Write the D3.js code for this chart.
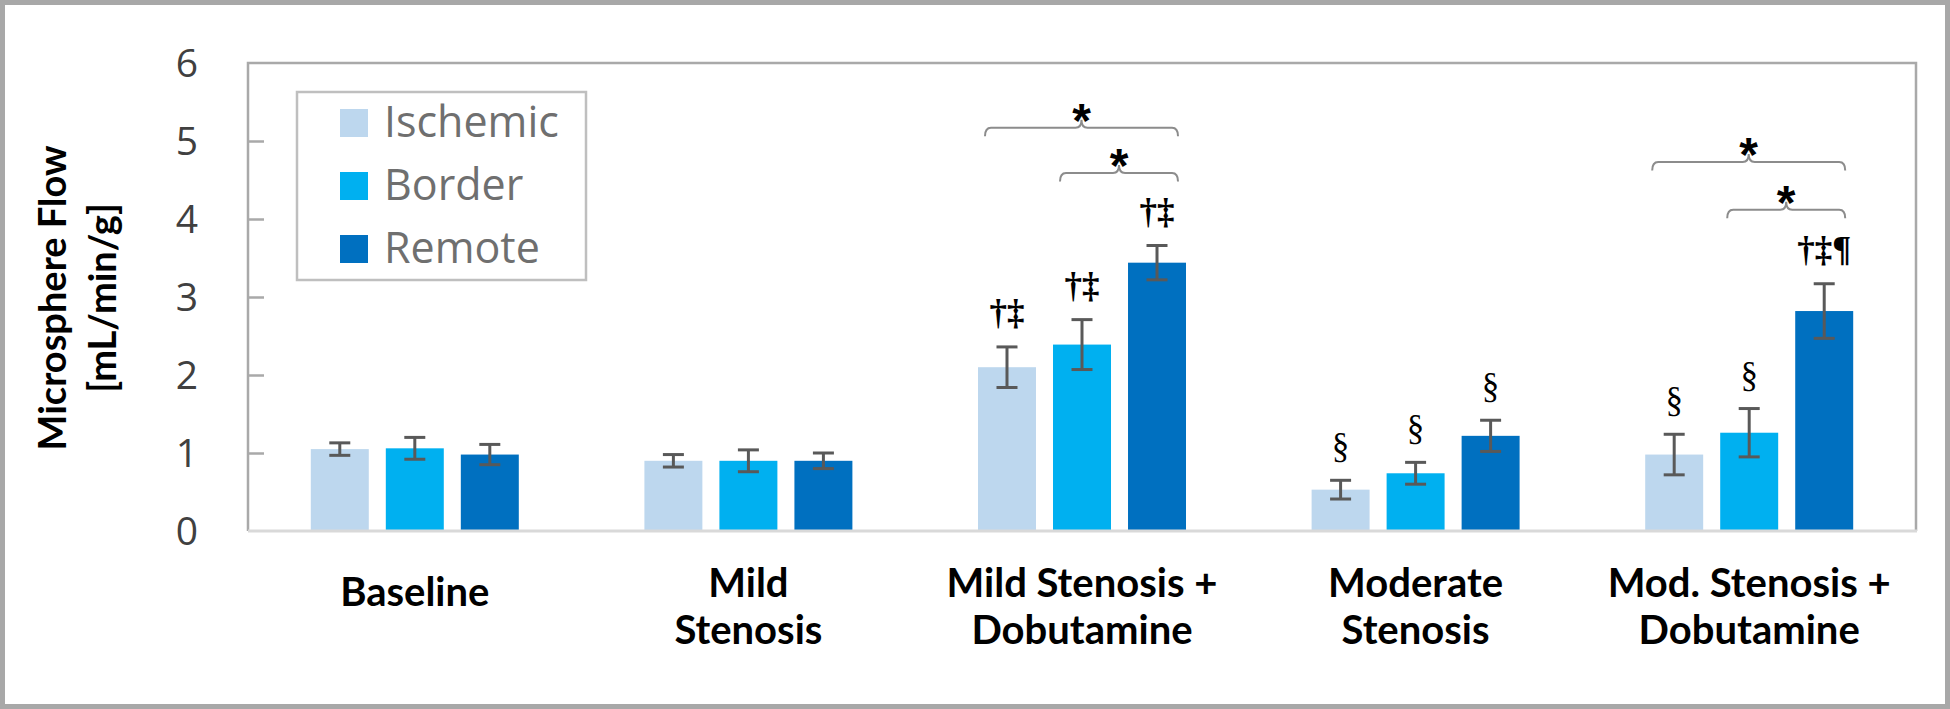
<!DOCTYPE html>
<html>
<head>
<meta charset="utf-8">
<script src="https://cdn.jsdelivr.net/npm/d3@7"></script>
<style>
  html, body { margin: 0; padding: 0; background: #ffffff; }
  svg { display: block; }
</style>
</head>
<body>
<svg id="chart" width="1950" height="709"></svg>
<script>
// ---------------- data ----------------
const categories = ["Baseline", "Mild\nStenosis", "Mild Stenosis +\nDobutamine", "Moderate\nStenosis", "Mod. Stenosis +\nDobutamine"];
const seriesNames = ["Ischemic", "Border", "Remote"];
const ischemic = [1.05, 0.90, 2.10, 0.53, 0.98];
const border   = [1.06, 0.90, 2.39, 0.74, 1.26];
const remote   = [0.98, 0.90, 3.44, 1.22, 2.82];
const ischemicErr = [0.08, 0.08, 0.26, 0.12, 0.26];
const borderErr   = [0.14, 0.14, 0.32, 0.14, 0.31];
const remoteErr   = [0.13, 0.10, 0.22, 0.20, 0.35];
const ischemicMarks = ["", "", "†‡", "§", "§"];
const borderMarks   = ["", "", "†‡", "§", "§"];
const remoteMarks   = ["", "", "†‡", "§", "†‡¶"];
// significance brackets: category index, from series, to series, level (flow units)
const bracketCat   = [2, 2, 4, 4];
const bracketFrom  = [0, 1, 0, 1];
const bracketTo    = [2, 2, 2, 2];
const bracketLevel = [5.17, 4.59, 4.73, 4.12];
const bracketLabel = ["*", "*", "*", "*"];
const yTicks = [0, 1, 2, 3, 4, 5, 6];
const yTitle = ["Microsphere Flow", "[mL/min/g]"];

// ---------------- styles ----------------
const colors = ["#bdd7ee", "#00b0f0", "#0070c0"];
const values = [ischemic, border, remote];
const errs = [ischemicErr, borderErr, remoteErr];
const marks = [ischemicMarks, borderMarks, remoteMarks];

const svg = d3.select("#chart");
const W = 1950, H = 709;
const plot = { left: 248, right: 1916, top: 63, bottom: 531 };

// outer image frame
svg.append("rect").attr("x", 2.5).attr("y", 2.5).attr("width", W - 5).attr("height", H - 5)
  .attr("fill", "#ffffff").attr("stroke", "#a8a8a8").attr("stroke-width", 5);

const x0 = d3.scaleBand().domain(d3.range(categories.length)).range([plot.left, plot.right]).padding(0);
const x1 = d3.scaleBand().domain(d3.range(seriesNames.length)).range([-104, 104]).paddingInner(0.227).paddingOuter(0);
const y = d3.scaleLinear().domain([0, 6]).range([plot.bottom, plot.top]);

// plot frame (left, top, right)
const frameColor = "#a9a9a9";
svg.append("path")
  .attr("d", `M${plot.left},${plot.bottom} L${plot.left},${plot.top} L${plot.right},${plot.top} L${plot.right},${plot.bottom}`)
  .attr("fill", "none").attr("stroke", frameColor).attr("stroke-width", 2.5);

// y axis ticks & labels
const yAxis = d3.axisRight(y).tickValues(yTicks.filter(v => v > 0 && v < 6)).tickSize(16).tickFormat("");
const gy = svg.append("g").attr("transform", `translate(${plot.left},0)`).call(yAxis);
gy.select(".domain").remove();
gy.selectAll(".tick line").attr("stroke", frameColor).attr("stroke-width", 2.5);

svg.append("g").selectAll("text").data(yTicks).join("text")
  .attr("x", 198).attr("y", d => y(d) + 14)
  .attr("text-anchor", "end")
  .attr("font-family", "'Open Sans', 'DejaVu Sans', sans-serif")
  .attr("font-size", 39).attr("fill", "#404040")
  .text(d => d);

// y title
const yt = svg.append("text")
  .attr("transform", "translate(66,298) rotate(-90)")
  .attr("text-anchor", "middle")
  .attr("font-family", "Lato, 'Open Sans', sans-serif")
  .attr("font-weight", "bold").attr("font-size", 38).attr("fill", "#000");
yt.selectAll("tspan").data(yTitle).join("tspan")
  .attr("x", 0).attr("y", (d, i) => i * 50).text(d => d);

// bars
const groups = svg.append("g").selectAll("g").data(categories).join("g")
  .attr("transform", (d, i) => `translate(${x0(i) + x0.bandwidth() / 2},0)`);

groups.each(function(cat, ci) {
  const g = d3.select(this);
  seriesNames.forEach((s, si) => {
    const v = values[si][ci], e = errs[si][ci];
    const bx = x1(si), bw = x1.bandwidth(), cx = bx + bw / 2;
    g.append("rect").attr("x", bx).attr("y", y(v)).attr("width", bw).attr("height", y(0) - y(v))
      .attr("fill", colors[si]);
    // error bar
    g.append("line").attr("x1", cx).attr("x2", cx).attr("y1", y(v + e)).attr("y2", y(v - e))
      .attr("stroke", "#595959").attr("stroke-width", 3);
    [v + e, v - e].forEach(t => {
      g.append("line").attr("x1", cx - 10.5).attr("x2", cx + 10.5).attr("y1", y(t)).attr("y2", y(t))
        .attr("stroke", "#595959").attr("stroke-width", 3);
    });
    // significance marks
    const m = marks[si][ci];
    if (m) {
      g.append("text").attr("x", cx).attr("y", y(v + e) - 23)
        .attr("text-anchor", "middle")
        .attr("font-family", "'Liberation Serif', 'DejaVu Serif', serif")
        .attr("font-weight", m.includes("†") ? "bold" : "normal")
        .attr("font-size", 35).attr("fill", "#000")
        .text(m);
    }
  });
});

// bottom axis line
svg.append("line").attr("x1", plot.left).attr("x2", plot.right + 1).attr("y1", y(0)).attr("y2", y(0))
  .attr("stroke", "#d9d9d9").attr("stroke-width", 3);

// brackets
bracketCat.forEach((ci, k) => {
  const c = x0(ci) + x0.bandwidth() / 2;
  const xl = c + x1(bracketFrom[k]) + x1.bandwidth() / 2 - 22;
  const xr = c + x1(bracketTo[k]) + x1.bandwidth() / 2 + 21;
  const by = y(bracketLevel[k]);
  const xc = (xl + xr) / 2, d = 8.5, p = 8, r = 6;
  const path = `M${xl},${by + d} Q${xl},${by} ${xl + r},${by} L${xc - r},${by} Q${xc},${by} ${xc},${by - p} Q${xc},${by} ${xc + r},${by} L${xr - r},${by} Q${xr},${by} ${xr},${by + d}`;
  svg.append("path").attr("d", path).attr("fill", "none").attr("stroke", "#8c8c8c").attr("stroke-width", 2);
  svg.append("text").attr("x", xc).attr("y", by + 9)
    .attr("text-anchor", "middle")
    .attr("font-family", "'Liberation Sans', Arial, sans-serif")
    .attr("font-weight", "bold").attr("font-size", 48).attr("fill", "#000")
    .text(bracketLabel[k]);
});

// category labels
categories.forEach((cat, ci) => {
  const lines = cat.split("\n");
  const t = svg.append("text")
    .attr("text-anchor", "middle")
    .attr("font-family", "Lato, 'Open Sans', sans-serif")
    .attr("font-weight", "bold").attr("font-size", 40).attr("fill", "#000");
  const cx = x0(ci) + x0.bandwidth() / 2;
  if (lines.length === 1) {
    t.append("tspan").attr("x", cx).attr("y", 606).text(lines[0]);
  } else {
    lines.forEach((ln, li) => t.append("tspan").attr("x", cx).attr("y", 597 + li * 46.6).text(ln));
  }
});

// legend
const lg = svg.append("g");
lg.append("rect").attr("x", 297).attr("y", 92).attr("width", 289).attr("height", 188)
  .attr("fill", "#ffffff").attr("stroke", "#bfbfbf").attr("stroke-width", 2.5);
seriesNames.forEach((s, i) => {
  lg.append("rect").attr("x", 340).attr("y", 109 + i * 63).attr("width", 28).attr("height", 28)
    .attr("fill", colors[i]);
  lg.append("text").attr("x", 384).attr("y", 137 + i * 63)
    .attr("font-family", "'Open Sans', 'DejaVu Sans', sans-serif")
    .attr("font-size", 43).attr("fill", "#6f6f6f")
    .text(s);
});
</script>
</body>
</html>
